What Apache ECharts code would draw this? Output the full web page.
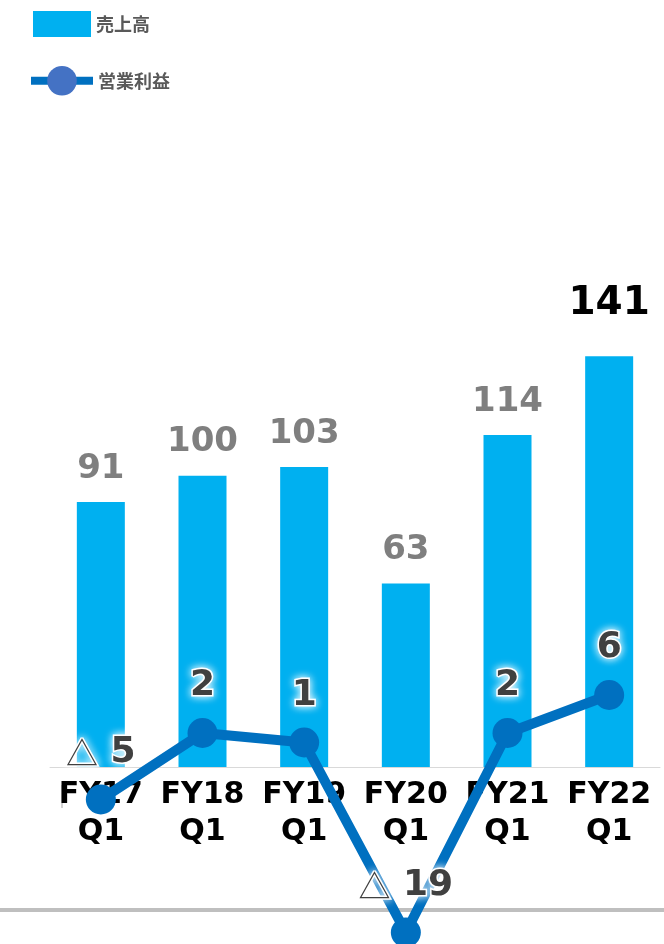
<!DOCTYPE html>
<html>
<head>
<meta charset="utf-8">
<script src="https://cdn.jsdelivr.net/npm/echarts@6/dist/echarts.min.js"></script>
<style>
  html, body { margin: 0; padding: 0; background: #fff; }
  #chart { width: 664px; height: 944px; }
</style>
</head>
<body>
<div id="chart"></div>
<script>
// 売上高 / 営業利益 (四半期)
const categories = ['FY17\nQ1', 'FY18\nQ1', 'FY19\nQ1', 'FY20\nQ1', 'FY21\nQ1', 'FY22\nQ1']
const sales = [91, 100, 103, 63, 114, 141]
const profit = [-5, 2, 1, -19, 2, 6]

const FONT = '"DejaVu Sans", "Noto Sans CJK JP", sans-serif'
const JP = '"Noto Sans CJK JP", sans-serif'

const chart = echarts.init(document.getElementById('chart'))

const salesData = sales.map((v, i) => {
  // 最新期だけ黒・大きめ
  if (i === sales.length - 1) {
    return { value: v, label: { color: '#000', fontSize: 39, distance: 33 } }
  }
  return v
})

chart.setOption({
  animation: false,
  legend: [
    {
      data: [{ name: '売上高', icon: 'rect' }],
      left: 28, top: 6,
      itemWidth: 58, itemHeight: 26, itemGap: 6,
      textStyle: { fontFamily: JP, fontSize: 18, fontWeight: 'bold', color: '#595959' },
    },
    {
      data: [{
        name: '営業利益',
        itemStyle: { color: '#4472C4' },
        lineStyle: { color: '#0070C0', width: 8 },
      }],
      left: 22, top: 61,
      itemWidth: 62, itemHeight: 37,
      textStyle: { fontFamily: JP, fontSize: 18, fontWeight: 'bold', color: '#595959' },
    },
  ],
  grid: [
    { left: 50, right: 4, top: 330, bottom: 177 },
    { left: 50, right: 4, top: 657, bottom: 2 },
  ],
  xAxis: [
    {
      type: 'category', data: categories, gridIndex: 0,
      axisLine: { lineStyle: { color: '#d9d9d9', width: 1 } },
      axisTick: { show: false },
      axisLabel: {
        interval: 0, margin: 10, fontFamily: FONT, fontSize: 30, fontWeight: 'bold',
        color: '#000', lineHeight: 37,
      },
    },
    {
      type: 'category', data: categories, gridIndex: 1,
      show: false,
    },
  ],
  yAxis: [
    { type: 'value', gridIndex: 0, min: 0, max: 150, show: false },
    { type: 'value', gridIndex: 1, min: -20, max: 10, show: false },
  ],
  graphic: [
    {
      type: 'line', z: 0,
      shape: { x1: 0, y1: 910, x2: 664, y2: 910 },
      style: { stroke: '#bfbfbf', lineWidth: 4 },
    },
    {
      type: 'line', z: 0,
      shape: { x1: 62, y1: 785, x2: 62, y2: 808 },
      style: { stroke: '#a6a6a6', lineWidth: 1 },
    },
  ],
  series: [
    {
      name: '売上高',
      type: 'bar',
      xAxisIndex: 0, yAxisIndex: 0,
      data: salesData,
      barWidth: 48,
      itemStyle: { color: '#00B0F0' },
      label: {
        show: true, position: 'top', distance: 16,
        fontFamily: FONT, fontSize: 34, fontWeight: 'bold', color: '#7f7f7f',
      },
      z: 2,
    },
    {
      name: '営業利益',
      type: 'line',
      xAxisIndex: 1, yAxisIndex: 1,
      data: profit,
      clip: false,
      symbol: 'circle', symbolSize: 30,
      lineStyle: { color: '#0070C0', width: 10 },
      itemStyle: { color: '#0070C0' },
      label: {
        show: true, position: 'top', distance: 14,
        formatter: p => p.value < 0 ? '{t|△} ' + Math.abs(p.value) : String(p.value),
        fontFamily: FONT, fontSize: 36, fontWeight: 'bold', color: '#404040',
        textBorderColor: '#fff', textBorderWidth: 3,
        textShadowColor: '#fff', textShadowBlur: 8,
        rich: {
          t: {
            fontFamily: JP, fontSize: 32, fontWeight: 'normal', color: '#404040',
            textBorderColor: '#fff', textBorderWidth: 3,
          },
        },
      },
      z: 5,
    },
  ],
})
</script>
</body>
</html>
